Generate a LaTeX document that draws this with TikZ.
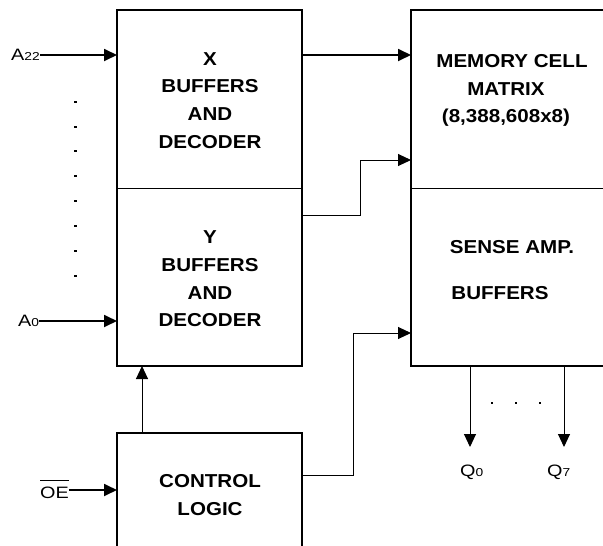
\documentclass[tikz,border=0pt]{standalone}
\usepackage{fontspec}
\setmainfont{Liberation Sans}
\newfontfamily\boxfont[FakeStretch=1.1]{Liberation Sans}
\newfontfamily\labfont[FakeStretch=1.2]{Liberation Sans}
\usetikzlibrary{arrows.meta}
\newcommand\myovl[1]{\vbox{\hrule height 0.9pt\kern 6pt\hbox{#1}}}
\begin{document}
\begin{tikzpicture}[x=1pt,y=-1pt,
  box/.style={line width=2pt},
  sepline/.style={line width=1pt},
  bigarr/.style={line width=1.8pt,-{Triangle[length=13pt,width=12pt]}},
  smallarr/.style={line width=1pt,-{Triangle[length=13pt,width=12pt]}},
  blk/.style={font=\boxfont\bfseries\fontsize{18.7}{27.7}\selectfont, align=center, inner sep=0pt},
  lab/.style={font=\labfont\fontsize{16.5}{17}\selectfont, inner sep=0pt},
  dotmark/.style={fill=black}
]
\useasboundingbox (0,0) rectangle (603,546);

% boxes
\draw[box] (117,10) rectangle (302,366);
\draw[sepline] (117,188) -- (302,188);
\draw[box] (604,10) -- (411,10) -- (411,366) -- (604,366);
\draw[sepline] (411,188) -- (604,188);
\draw[box] (117,547) -- (117,433) -- (302,433) -- (302,547);

% block texts
\node[blk] (xtxt) at (210,100.5) {X\\BUFFERS\\AND\\DECODER};
\node[blk] (ytxt) at (210,279) {Y\\BUFFERS\\AND\\DECODER};
\node[blk] (memtxt) at (506,90.5) {\hspace{12pt}MEMORY CELL\\MATRIX\\(8,388,608x8)\hspace{12pt}};
\node[blk] (sensetxt) at (512,247) {SENSE AMP.};
\node[blk] (sbuftxt) at (500,293) {BUFFERS};
\node[blk] (ctrltxt) at (210,495) {CONTROL\\LOGIC};

% labels
\node[lab, anchor=base west] (a22) at (11,60.7) {A{\fontsize{11.5}{12}\selectfont 22}};
\node[lab, anchor=base west] (a0) at (18,326.7) {A{\fontsize{11.5}{12}\selectfont 0}};
\node[lab, anchor=base west] (oe) at (40,498) {\myovl{OE}};
\node[lab, anchor=base west] (q0) at (460,476) {Q{\fontsize{11.5}{12}\selectfont 0}};
\node[lab, anchor=base west] (q7) at (547,476) {Q{\fontsize{11.5}{12}\selectfont 7}};

% connection points
\coordinate (xin) at (117,55);
\coordinate (a0in) at (117,321);
\coordinate (oein) at (117,490);
\coordinate (xout) at (302,55);
\coordinate (memin1) at (411,55);
\coordinate (yout) at (302,215);
\coordinate (memin2) at (411,160);
\coordinate (ctrlout) at (302,475);
\coordinate (sensein) at (411,333);
\coordinate (ctrltop) at (142,433);
\coordinate (ybot) at (142,366);
\coordinate (q0src) at (470,366);
\coordinate (q0dst) at (470,447);
\coordinate (q7src) at (564,366);
\coordinate (q7dst) at (564,447);

% connectors
\draw[bigarr] (a22.east |- xin) -- (xin);
\draw[bigarr] (a0.east |- a0in) -- (a0in);
\draw[bigarr] (oe.east |- oein) -- (oein);
\draw[bigarr] (xout) -- (memin1);
\draw[smallarr] (yout) -- (360,215) -- (360,160) -- (memin2);
\draw[smallarr] (ctrlout) -- (353,475) -- (353,333) -- (sensein);
\draw[smallarr] (ctrltop) -- (ybot);
\draw[smallarr] (q0src) -- (q0dst);
\draw[smallarr] (q7src) -- (q7dst);

% dots
\foreach \yy in {102,127,151,176,201,226,251,276}
  \fill[dotmark] (73.7,\yy-1.4) rectangle ++(2.8,2.8);
\foreach \xx in {492,516,540}
  \fill[dotmark] (\xx-1.4,401.6) rectangle ++(2.8,2.8);
\end{tikzpicture}
\end{document}
